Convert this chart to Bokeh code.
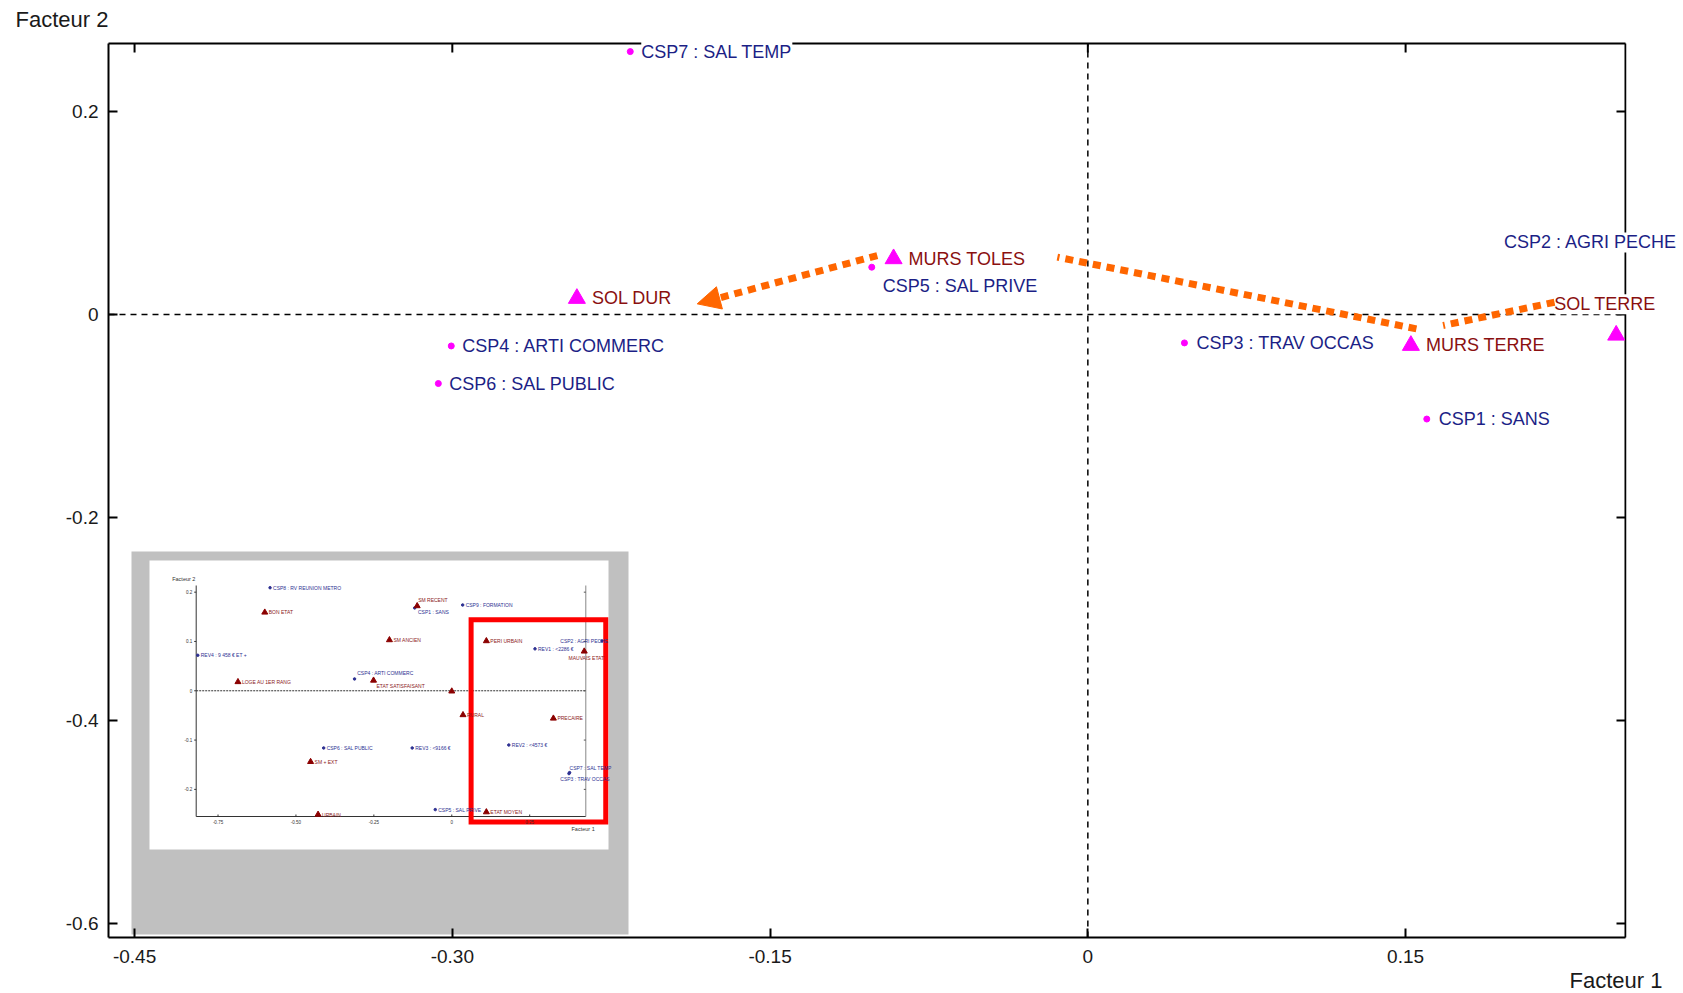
from bokeh.plotting import figure
from bokeh.models import (ColumnDataSource, LabelSet, Label, Range1d, FixedTicker,
                          LinearAxis, Arrow, NormalHead)
from bokeh.core.properties import value
from bokeh.embed import file_html
from bokeh.resources import INLINE

# ---------------------------------------------------------------------------
# Plan factoriel (Facteur 1 x Facteur 2) - agrandissement de la zone encadrée
# ---------------------------------------------------------------------------

# Modalités CSP (points)
csp_noms = ["CSP7 : SAL TEMP", "CSP5 : SAL PRIVE", "CSP4 : ARTI COMMERC",
            "CSP6 : SAL PUBLIC", "CSP3 : TRAV OCCAS", "CSP1 : SANS",
            "CSP2 : AGRI PECHE"]
csp_f1 = [-0.216, -0.102, -0.3005, -0.3066, 0.0456, 0.160, 0.272]
csp_f2 = [0.259, 0.0466, -0.031, -0.068, -0.028, -0.103, 0.071]

# Modalités logement (triangles)
log_noms = ["SOL DUR", "MURS TOLES", "MURS TERRE", "SOL TERRE"]
log_f1 = [-0.2412, -0.0917, 0.1525, 0.2494]
log_f2 = [0.0158, 0.0549, -0.0305, -0.0204]

# Trajectoire tracée à la main (trois tronçons, le dernier fléché)
trajet_f1 = [[0.2203, 0.1677], [0.1551, -0.0144], [-0.0994, -0.1844]]
trajet_f2 = [[0.0121, -0.0108], [-0.0141, 0.0565], [0.0581, 0.0105]]

# Graduations
x_ticks = [-0.45, -0.30, -0.15, 0.0, 0.15]
x_tick_labels = ["-0.45", "-0.30", "-0.15", "0", "0.15"]
y_ticks = [0.2, 0.0, -0.2, -0.4, -0.6]
y_tick_labels = ["0.2", "0", "-0.2", "-0.4", "-0.6"]

# Vignette : plan factoriel complet
vig_noms = ["CSP8 : RV REUNION METRO", "BON ETAT", "SM RECENT", "CSP1 : SANS",
            "CSP9 : FORMATION", "SM ANCIEN", "REV4 : 9 458 \u20ac ET +",
            "LOGE AU 1ER RANG", "CSP4 : ARTI COMMERC", "ETAT SATISFAISANT", "",
            "RURAL", "PRECAIRE", "REV2 : <4573 \u20ac", "CSP6 : SAL PUBLIC",
            "REV3 : <9166 \u20ac", "SM + EXT", "CSP7 : SAL TEMP",
            "CSP3 : TRAV OCCAS", "URBAIN", "CSP5 : SAL PRIVE", "ETAT MOYEN",
            "PERI URBAIN", "REV1 : <2286 \u20ac", "CSP2 : AGRI PECHE",
            "MAUVAIS ETAT"]
vig_f1 = [-0.583, -0.600, -0.111, -0.119, 0.035, -0.200, -0.815, -0.686,
          -0.312, -0.251, 0.000, 0.036, 0.326, 0.183, -0.411, -0.127, -0.453,
          0.378, 0.376, -0.429, -0.053, 0.111, 0.111, 0.267, 0.482, 0.425]
vig_f2 = [0.209, 0.159, 0.172, 0.168, 0.174, 0.103, 0.072, 0.018, 0.024,
          0.021, -0.001, -0.049, -0.056, -0.110, -0.116, -0.116, -0.144,
          -0.166, -0.168, -0.251, -0.241, -0.246, 0.101, 0.085, 0.101, 0.080]
vig_type = ["csp", "log", "log", "csp", "csp", "log", "csp", "log", "csp", "log",
            "log", "log", "log", "csp", "csp", "csp", "log", "csp", "csp", "log",
            "csp", "log", "log", "csp", "csp", "log"]
vig_x_ticks = [-0.75, -0.50, -0.25, 0.0, 0.25]
vig_x_tick_labels = ["-0.75", "-0.50", "-0.25", "0", "0.25"]
vig_y_ticks = [0.2, 0.1, 0.0, -0.1, -0.2]
vig_y_tick_labels = ["0.2", "0.1", "0", "-0.1", "-0.2"]
# zone agrandie dans le graphique principal
zone_f1 = [0.062, 0.494]
zone_f2 = [-0.266, 0.144]

# ---------------------------------------------------------------------------
# Mise en page : la zone de tracé couvre toute la page, le cadre est dessiné
# ---------------------------------------------------------------------------
W, H = 1683, 993
FL, FR, FT, FB = 108, 1625, 43, 937          # cadre du graphique (pixels)
X0, X1 = -0.4623, 0.2538                     # étendue visible dans le cadre
Y0, Y1 = -0.6138, 0.2670
KX = (X1 - X0) / (FR - FL)                   # unités par pixel
KY = (Y1 - Y0) / (FB - FT)

MAGENTA = "#FF00FF"
BLEU = "#1c1f86"
ROUGE = "#8a1010"
ORANGE = "#FF6600"
FONT = "Liberation Sans"


def ex(px):
    return X0 + (px - FL) * KX


def ey(py):
    return Y1 - (py - FT) * KY


p = figure(width=W, height=H, x_range=Range1d(ex(0), ex(W)), y_range=Range1d(ey(H), ey(0)),
           output_backend="svg", toolbar_location=None,
           x_axis_location=None, y_axis_location=None,
           min_border_left=0, min_border_right=0, min_border_top=0, min_border_bottom=0)
p.outline_line_color = None
p.background_fill_color = "white"
p.border_fill_color = "white"
p.xgrid.visible = False
p.ygrid.visible = False


def cadre_axis(ticks, labels, loc, bounds):
    ax = LinearAxis(ticker=FixedTicker(ticks=ticks), fixed_location=loc, bounds=bounds,
                    major_label_overrides={t: l for t, l in zip(ticks, labels)})
    ax.axis_line_width = 2
    ax.axis_line_color = "black"
    ax.major_tick_line_width = 2
    ax.major_tick_line_color = "black"
    ax.major_tick_in = 9
    ax.major_tick_out = 0
    ax.minor_tick_line_color = None
    ax.major_label_text_font = FONT
    ax.major_label_text_color = "#1a1a1a"
    ax.major_label_text_font_size = "19px"
    return ax


ax_b = cadre_axis(x_ticks, x_tick_labels, Y0, (X0, X1))
ax_b.major_label_standoff = 12
ax_l = cadre_axis(y_ticks, y_tick_labels, X0, (Y0, Y1))
ax_l.major_label_standoff = 10
p.add_layout(ax_b, "below")
p.add_layout(ax_l, "left")

# bords haut et droit du cadre, avec graduations intérieures
p.segment(x0=[X0, X1], y0=[Y1, Y0], x1=[X1, X1], y1=[Y1, Y1],
          line_color="black", line_width=2)
p.segment(x0=x_ticks, y0=[Y1] * len(x_ticks), x1=x_ticks,
          y1=[Y1 - 9 * KY] * len(x_ticks), line_color="black", line_width=2)
p.segment(x0=[X1] * len(y_ticks), y0=y_ticks, x1=[X1 - 9 * KX] * len(y_ticks),
          y1=y_ticks, line_color="black", line_width=2)

# Vignette : position à l'écran et étendue de ses axes
VL, VR, VT, VB = 195.7, 585.3, 585.0, 816.0
VX0, VX1 = -0.82, 0.43
VY0, VY1 = -0.255, 0.2135


def vx(v):
    return ex(VL + (v - VX0) / (VX1 - VX0) * (VR - VL))


def vy(v):
    return ey(VT + (VY1 - v) / (VY1 - VY0) * (VB - VT))


# fond gris + page blanche
p.quad(left=[ex(131)], right=[ex(628)], top=[ey(551)], bottom=[ey(934)],
       fill_color="#C0C0C0", line_color=None)
p.quad(left=[ex(149)], right=[ex(608)], top=[ey(560)], bottom=[ey(849)],
       fill_color="white", line_color=None)

# axes de la vignette
p.segment(x0=[vx(VX0), vx(VX0), vx(VX1)], y0=[vy(VY1), vy(VY0), vy(VY1)],
          x1=[vx(VX0), vx(VX1), vx(VX1)], y1=[vy(VY0), vy(VY0), vy(VY0)],
          line_color=["#333333", "#333333", "#888888"], line_width=1)
p.segment(x0=[vx(VX0)], y0=[vy(0)], x1=[vx(VX1)], y1=[vy(0)],
          line_color="#333333", line_width=1, line_dash="2 1")
p.segment(x0=[vx(t) for t in vig_x_ticks], y0=[vy(VY0)] * 5,
          x1=[vx(t) for t in vig_x_ticks], y1=[ey(VB - 2)] * 5,
          line_color="#333333", line_width=1)
p.segment(x0=[vx(VX0)] * 5, y0=[vy(t) for t in vig_y_ticks],
          x1=[ex(VL - 2)] * 5, y1=[vy(t) for t in vig_y_ticks],
          line_color="#333333", line_width=1)
p.segment(x0=[vx(VX1)] * 5, y0=[vy(t) for t in vig_y_ticks],
          x1=[ex(VR - 2)] * 5, y1=[vy(t) for t in vig_y_ticks],
          line_color="#555555", line_width=1)

vt_x = ColumnDataSource(dict(x=[vx(t) for t in vig_x_ticks], y=[ey(VB + 5)] * 5,
                             t=vig_x_tick_labels))
p.add_layout(LabelSet(source=vt_x, x="x", y="y", text="t", text_align="center",
                      text_baseline="middle", text_font=value(FONT),
                      text_font_size="4.5px", text_color="#333333"))
vt_y = ColumnDataSource(dict(x=[ex(VL - 4)] * 5, y=[vy(t) for t in vig_y_ticks],
                             t=vig_y_tick_labels))
p.add_layout(LabelSet(source=vt_y, x="x", y="y", text="t", text_align="right",
                      text_baseline="middle", text_font=value(FONT),
                      text_font_size="4.5px", text_color="#333333"))
p.add_layout(Label(x=ex(171.7), y=ey(578), text="Facteur 2", text_font=FONT,
                   text_font_size="5.5px", text_color="#333333",
                   text_baseline="middle"))
p.add_layout(Label(x=ex(571), y=ey(828), text="Facteur 1", text_font=FONT,
                   text_font_size="5.5px", text_color="#333333",
                   text_baseline="middle"))

# points de la vignette
v_dx = [3, 4, 1, 3.3, 3, 4, 3, 4, 2.7, 3, 4, 4, 4, 3, 3, 3, 4, 0, -8.7, 4, 3, 4, 4, 3,
        -41.7, -15.7]
v_dy = [0, 0, 5.7, -4.3, 0, 0, 0, 0, 5.7, -5.3, 0, 0, 0, 0, 0, 0, 0, 4.3, -5.7, 0, 0,
        0, 0, 0, 0, -6.3]
avec_nom = [i for i, n in enumerate(vig_noms) if n]
vsrc = ColumnDataSource(dict(
    x=[vx(vig_f1[i]) for i in avec_nom], y=[vy(vig_f2[i]) for i in avec_nom],
    t=[vig_noms[i] for i in avec_nom],
    dx=[v_dx[i] for i in avec_nom], dy=[v_dy[i] for i in avec_nom],
    c=["#2e3192" if vig_type[i] == "csp" else "#8b1a1a" for i in avec_nom]))
csp_idx = [i for i, k in enumerate(vig_type) if k == "csp"]
log_idx = [i for i, k in enumerate(vig_type) if k == "log"]
p.scatter([vx(vig_f1[i]) for i in csp_idx], [vy(vig_f2[i]) for i in csp_idx],
          marker="circle", size=2.5, color="#2e3192")
p.scatter([vx(vig_f1[i]) for i in log_idx], [vy(vig_f2[i]) for i in log_idx],
          marker="triangle", size=6, color="#8b0000")
p.add_layout(LabelSet(source=vsrc, x="x", y="y", text="t", x_offset="dx",
                      y_offset="dy", text_color="c", text_baseline="middle",
                      text_font=value(FONT), text_font_size="5px"))
# cadre rouge de la zone agrandie
p.quad(left=[vx(zone_f1[0])], right=[vx(zone_f1[1])],
       bottom=[vy(zone_f2[0])], top=[vy(zone_f2[1])],
       fill_color=None, line_color="#FF0000", line_width=5, line_join="miter")

# ---------------------------------------------------------------------------
# Plan principal
# ---------------------------------------------------------------------------
# axes de référence (0, 0) en pointillés
p.segment(x0=[X0, 0], y0=[0, Y0], x1=[X1, 0], y1=[0, Y1],
          line_color="black", line_width=1.5, line_dash="6 5")

p.scatter(csp_f1, csp_f2, marker="circle", size=6, color=MAGENTA)
p.scatter(log_f1, log_f2, marker="triangle", size=17, color=MAGENTA)
# le cadre masque ce qui dépasse à droite
p.quad(left=[X1 + KX], right=[ex(W)], bottom=[ey(H)], top=[ey(0)],
       fill_color="white", line_color=None)

# étiquettes : décalages en pixels
csp_dx = [11, 11, 11, 11, 12, 12, -160]
csp_dy = [0, -19, 0, 0, 0, 0, 0]
log_dx = [15, 15, 15, -62]
log_dy = [0, 0, 0, 31]
lab = ColumnDataSource(dict(
    x=csp_f1 + log_f1, y=csp_f2 + log_f2, t=csp_noms + log_noms,
    dx=csp_dx + log_dx, dy=csp_dy + log_dy,
    c=[BLEU] * len(csp_noms) + [ROUGE] * len(log_noms)))
p.add_layout(LabelSet(source=lab, x="x", y="y", text="t", x_offset="dx",
                      y_offset="dy", text_color="c", text_baseline="middle",
                      text_align="left", text_font=value(FONT),
                      text_font_size="18px", background_fill_color="white"))

# trajectoire orange
r = p.multi_line(trajet_f1[:2], trajet_f2[:2], line_color=ORANGE, line_width=7,
                 line_dash="8 6")
r.level = "overlay"
p.add_layout(Arrow(x_start=trajet_f1[2][0], y_start=trajet_f2[2][0],
                   x_end=trajet_f1[2][1], y_end=trajet_f2[2][1],
                   line_color=ORANGE, line_width=7, line_dash="8 6",
                   end=NormalHead(size=23, fill_color=ORANGE, line_color=ORANGE,
                                  line_width=1)))

# titres des axes
p.add_layout(Label(x=15, y=H - 19, x_units="screen", y_units="screen",
                   text="Facteur 2", text_font=FONT, text_font_size="22px",
                   text_color="#1a1a1a", text_baseline="middle"))
p.add_layout(Label(x=1662, y=H - 980, x_units="screen", y_units="screen",
                   text="Facteur 1", text_font=FONT, text_font_size="22px",
                   text_color="#1a1a1a", text_baseline="middle", text_align="right"))

open("out.html", "w").write(file_html(p, INLINE))
